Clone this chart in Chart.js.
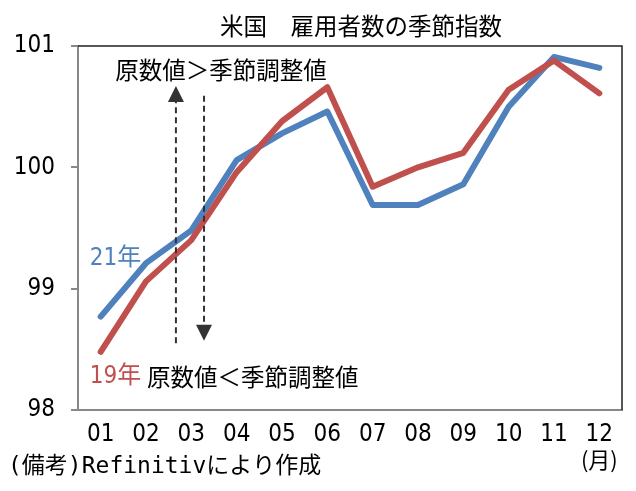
<!DOCTYPE html>
<html>
<head>
<meta charset="utf-8">
<script src="https://cdn.jsdelivr.net/npm/chart.js@4.4.1/dist/chart.umd.min.js"></script>
<style>
  html, body { margin: 0; padding: 0; background: #fff; }
  #wrap { width: 636px; height: 491px; }
</style>
</head>
<body>
<div id="wrap"><canvas id="myChart"></canvas></div>
<script>
const months = ['01','02','03','04','05','06','07','08','09','10','11','12'];
const idx19 = [98.48, 99.06, 99.40, 99.96, 100.38, 100.66, 99.84, 100.00, 100.12, 100.64, 100.88, 100.61];
const idx21 = [98.77, 99.21, 99.48, 100.06, 100.28, 100.46, 99.69, 99.69, 99.86, 100.50, 100.91, 100.82];
const yMin = 98, yMax = 101;

const RED = '#C0504D';
const BLUE = '#4F81BD';
const numFont = '"Liberation Sans Narrow", "DejaVu Sans Condensed", "Noto Sans CJK JP", sans-serif';
const jpFont = '"Noto Sans CJK JP", sans-serif';
const noteFont = '"DejaVu Sans Mono", "Noto Sans CJK JP", monospace';

function arrow(ctx, px, yFrom, yTip) {
    const dir = yTip < yFrom ? -1 : 1;
    const headLen = 16, headW = 8;
    ctx.save();
    ctx.strokeStyle = '#333';
    ctx.fillStyle = '#333';
    ctx.lineWidth = 2;
    ctx.setLineDash([6, 4]);
    ctx.beginPath();
    ctx.moveTo(px, yFrom);
    ctx.lineTo(px, yTip - dir * headLen);
    ctx.stroke();
    ctx.setLineDash([]);
    ctx.beginPath();
    ctx.moveTo(px, yTip);
    ctx.lineTo(px - headW, yTip - dir * headLen);
    ctx.lineTo(px + headW, yTip - dir * headLen);
    ctx.closePath();
    ctx.fill();
    ctx.restore();
}

const overlay = {
    id: 'overlay',
    afterDraw(chart) {
        const {ctx, chartArea: a, scales: {x, y}} = chart;
        ctx.save();
        // top and right frame
        ctx.strokeStyle = '#222';
        ctx.lineWidth = 1.5;
        ctx.beginPath();
        ctx.moveTo(a.left, a.top);
        ctx.lineTo(a.right, a.top);
        ctx.lineTo(a.right, a.bottom);
        ctx.stroke();

        // arrows
        arrow(ctx, x.getPixelForValue(1.66), y.getPixelForValue(98.55), y.getPixelForValue(100.67));
        arrow(ctx, x.getPixelForValue(2.28), y.getPixelForValue(100.59), y.getPixelForValue(98.57));

        ctx.textBaseline = 'middle';
        ctx.textAlign = 'left';
        ctx.fillStyle = '#000';
        ctx.font = '23.5px ' + jpFont;
        ctx.fillText('原数値＞季節調整値', x.getPixelForValue(0.32), y.getPixelForValue(100.80));
        ctx.fillText('原数値＜季節調整値', x.getPixelForValue(1.02), y.getPixelForValue(98.27));

        ctx.font = '24px ' + numFont;
        ctx.fillStyle = BLUE;
        ctx.fillText('21年', x.getPixelForValue(-0.24), y.getPixelForValue(99.25));
        ctx.fillStyle = RED;
        ctx.fillText('19年', x.getPixelForValue(-0.24), y.getPixelForValue(98.27));

        // title
        ctx.fillStyle = '#000';
        ctx.textAlign = 'center';
        ctx.font = '23.5px ' + jpFont;
        ctx.fillText('米国　雇用者数の季節指数', 361, 26);

        // unit and source
        ctx.font = '22px ' + jpFont;
        ctx.fillText('(月)', x.getPixelForValue(11), 460);
        ctx.textAlign = 'left';
        ctx.font = '23px ' + noteFont;
        ctx.fillText('(備考)Refinitivにより作成', 8, 467);
        ctx.restore();
    }
};

const data = {
    labels: months,
    datasets: [{
        label: '19年',
        data: idx19,
        borderColor: RED,
        backgroundColor: RED,
        borderWidth: 6,
        pointRadius: 0,
        borderCapStyle: 'round',
        borderJoinStyle: 'round',
        tension: 0
    }, {
        label: '21年',
        data: idx21,
        borderColor: BLUE,
        backgroundColor: BLUE,
        borderWidth: 6,
        pointRadius: 0,
        borderCapStyle: 'round',
        borderJoinStyle: 'round',
        tension: 0
    }]
};

const config = {
    type: 'line',
    data: data,
    options: {
        responsive: true,
        maintainAspectRatio: false,
        animation: false,
        layout: { padding: { top: 46, right: 14, left: 0, bottom: 0 } },
        plugins: {
            legend: { display: false },
            title: { display: false },
            tooltip: { enabled: false }
        },
        scales: {
            x: {
                offset: true,
                grid: { display: true, drawOnChartArea: false, drawTicks: false },
                border: { display: true, color: '#888', width: 2 },
                ticks: {
                    color: '#000',
                    padding: 10,
                    maxRotation: 0,
                    autoSkip: false,
                    font: { family: numFont, size: 24 }
                },
                afterFit: (scale) => { scale.height = 81; }
            },
            y: {
                min: yMin,
                max: yMax,
                grid: { display: true, drawOnChartArea: false, drawTicks: true, tickLength: 7, color: '#888', lineWidth: 2 },
                border: { display: true, color: '#888', width: 2 },
                ticks: {
                    stepSize: 1,
                    color: '#000',
                    padding: 16,
                    font: { family: numFont, size: 24 }
                },
                afterFit: (scale) => { scale.width = 78; }
            }
        }
    },
    plugins: [overlay]
};

const myChart = new Chart(
    document.getElementById('myChart'),
    config
);
</script>
</body>
</html>
